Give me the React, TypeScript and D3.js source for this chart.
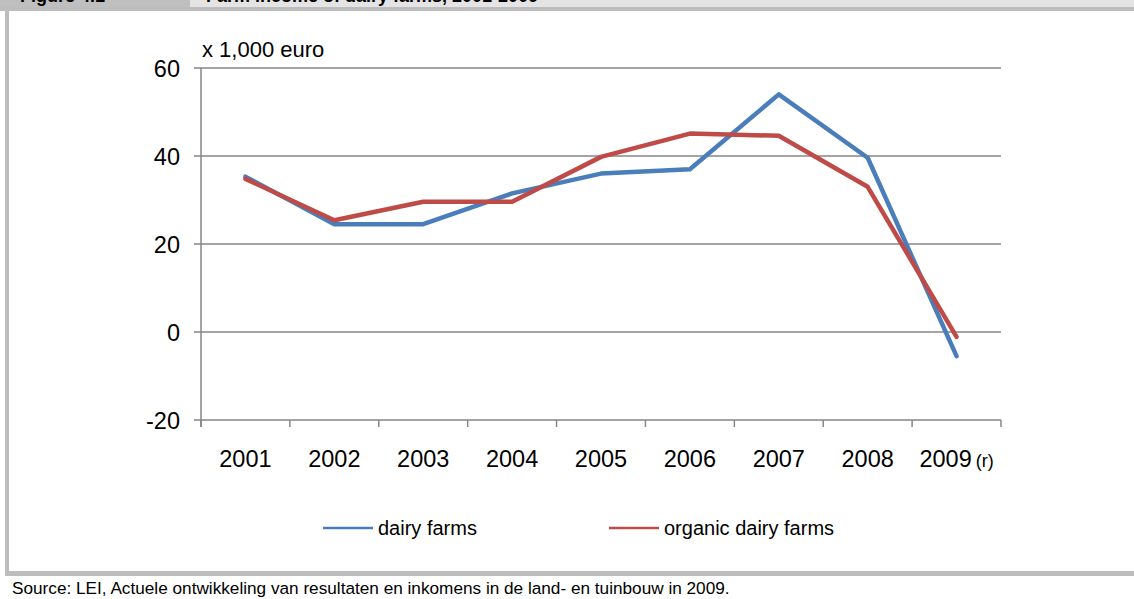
import React from "react";
import * as d3 from "d3";

const years = ["2001", "2002", "2003", "2004", "2005", "2006", "2007", "2008", "2009"];
const yearSuffix = ["", "", "", "", "", "", "", "", "(r)"];
const dairyFarms = [35.3, 24.5, 24.5, 31.5, 36.0, 37.0, 54.0, 39.6, -5.5];
const organicDairyFarms = [34.8, 25.4, 29.6, 29.6, 39.8, 45.1, 44.6, 33.0, -1.1];
const yTicks = [-20, 0, 20, 40, 60];
const seriesNames = ["dairy farms", "organic dairy farms"];
const seriesColors = ["#4a7ebb", "#be4b48"];

const W = 1134;
const H = 599;
const FONT = "'Liberation Sans', Arial, sans-serif";

export default function App() {
  const x = d3.scaleBand<string>().domain(years).range([201, 1001]).padding(0);
  const y = d3.scaleLinear().domain([-20, 60]).range([420, 68]);
  const cx = (i: number) => (x(years[i]) as number) + x.bandwidth() / 2;
  const line = d3
    .line<number>()
    .x((_, i) => cx(i))
    .y((d) => y(d));
  const series = [dairyFarms, organicDairyFarms];
  const gridColor = "#868686";
  const boundaries = [...years.map((yr) => x(yr) as number), 1001];
  const legendX = [323, 609];

  return (
    <svg
      width={W}
      height={H}
      style={{ position: "absolute", left: 0, top: 0, background: "#fff" }}
      fontFamily={FONT}
    >
      {/* header band */}
      <rect x={0} y={0} width={W} height={7} fill="#e4e4e4" />
      <rect x={0} y={0} width={190} height={7} fill="#bfbfbf" />
      <rect x={0} y={7} width={W} height={4} fill="#bdbdbd" />
      <text x={20} y={2} fontSize={18} fontWeight="bold" fill="#000">
        Figure 4.1
      </text>
      <text x={206} y={2} fontSize={18} fontWeight="bold" fill="#000">
        Farm income of dairy farms, 2001-2009
      </text>
      {/* left border and bottom stripe */}
      <rect x={5} y={11} width={4} height={565} fill="#bdbdbd" />
      <rect x={5} y={571} width={W - 5} height={5} fill="#bdbdbd" />

      {/* gridlines */}
      {yTicks.map((t) => (
        <line key={"g" + t} x1={194} x2={1001} y1={y(t)} y2={y(t)} stroke={gridColor} strokeWidth={1.5} />
      ))}
      {/* y axis */}
      <line x1={201} x2={201} y1={y(60)} y2={y(-20) + 7} stroke={gridColor} strokeWidth={1.5} />
      {/* x ticks */}
      {boundaries.map((b, i) => (
        <line key={"t" + i} x1={b} x2={b} y1={y(-20)} y2={y(-20) + 7} stroke={gridColor} strokeWidth={1.5} />
      ))}
      {/* y tick labels */}
      {yTicks.map((t) => (
        <text key={"yl" + t} x={180} y={y(t) + 8.5} textAnchor="end" fontSize={23.5} fill="#000">
          {t}
        </text>
      ))}
      {/* x labels */}
      {years.map((yr, i) => (
        <text key={"xl" + yr} x={cx(i)} y={467} textAnchor="middle" fontSize={23.5} fill="#000">
          {yr}
          {yearSuffix[i] ? (
            <tspan fontSize={18} dx={4}>
              {yearSuffix[i]}
            </tspan>
          ) : null}
        </text>
      ))}
      {/* unit label */}
      <text x={202} y={57} fontSize={22} fill="#000">
        x 1,000 euro
      </text>

      {/* lines */}
      {series.map((s, k) => (
        <path
          key={"s" + k}
          d={line(s) as string}
          fill="none"
          stroke={seriesColors[k]}
          strokeWidth={4.5}
          strokeLinejoin="round"
          strokeLinecap="round"
        />
      ))}

      {/* legend */}
      {seriesNames.map((n, k) => {
        const lx = legendX[k];
        return (
          <g key={"lg" + k}>
            <line x1={lx} x2={lx + 50} y1={528} y2={528} stroke={seriesColors[k]} strokeWidth={2.5} />
            <text x={lx + 55} y={535} fontSize={20} fill="#000">
              {n}
            </text>
          </g>
        );
      })}

      {/* source */}
      <text x={12} y={594} fontSize={17.2} fill="#000">
        Source: LEI, Actuele ontwikkeling van resultaten en inkomens in de land- en tuinbouw in 2009.
      </text>
    </svg>
  );
}
